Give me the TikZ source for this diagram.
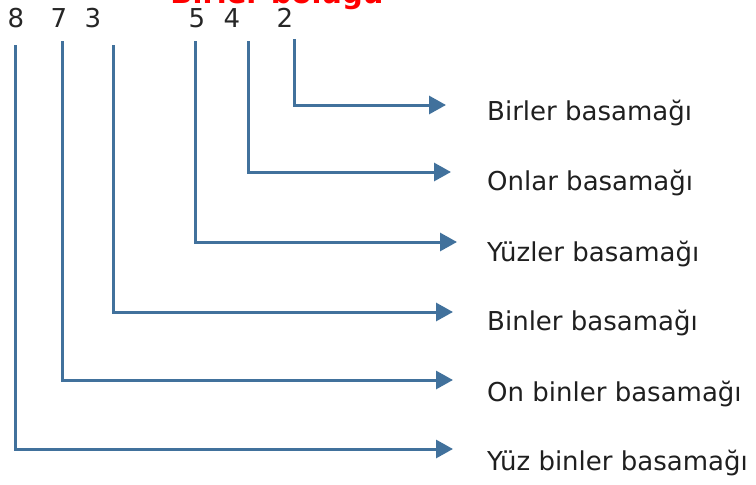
\documentclass[tikz,border=0pt]{standalone}
\usepackage{fontspec}
\setmainfont{DejaVu Sans}
\usetikzlibrary{arrows.meta}
\definecolor{linkblue}{RGB}{65,113,156}
\definecolor{topred}{RGB}{255,0,0}
\tikzset{
  conn/.style={draw=linkblue, line width=3pt, -{Triangle[length=17pt,width=18pt]}},
  digit/.style={inner sep=0pt, anchor=base, font=\fontsize{26}{30}\selectfont, text=black!85},
  placelabel/.style={inner sep=0pt, anchor=base west, font=\fontsize{26}{30}\selectfont, text=black!88},
  grouplabel/.style={inner sep=0pt, anchor=base, font=\bfseries\fontsize{29}{34}\selectfont, text=topred}
}
\begin{document}
\begin{tikzpicture}[x=1pt,y=-1pt]
\useasboundingbox (0,0) rectangle (756,485);
\clip (0,0) rectangle (756,485);
% cropped red heading
\node[grouplabel] (grp) at (277,3) {Birler bölüğü};
% digits
\node[digit] (d8) at (16,27) {8};
\node[digit] (d7) at (59,27) {7};
\node[digit] (d3) at (93,27) {3};
\node[digit] (d5) at (197,27) {5};
\node[digit] (d4) at (232,27) {4};
\node[digit] (d2) at (285,27) {2};
% labels
\node[placelabel] (l1) at (487,120) {Birler basamağı};
\node[placelabel] (l2) at (487,190) {Onlar basamağı};
\node[placelabel] (l3) at (487,261) {Yüzler basamağı};
\node[placelabel] (l4) at (487,330) {Binler basamağı};
\node[placelabel] (l5) at (487,401) {On binler basamağı};
\node[placelabel] (l6) at (487,470) {Yüz binler basamağı};
% connector start and tip points
\coordinate (s2) at (294,39);  \coordinate (t2) at (446,105);
\coordinate (s4) at (248,41);  \coordinate (t4) at (451,172);
\coordinate (s5) at (195,41);  \coordinate (t5) at (457,242);
\coordinate (s3) at (113,45);  \coordinate (t3) at (453,312);
\coordinate (s7) at (62,41);   \coordinate (t7) at (453,380);
\coordinate (s8) at (15,45);   \coordinate (t8) at (453,449);
\draw[conn] (s2) |- (t2);
\draw[conn] (s4) |- (t4);
\draw[conn] (s5) |- (t5);
\draw[conn] (s3) |- (t3);
\draw[conn] (s7) |- (t7);
\draw[conn] (s8) |- (t8);
\end{tikzpicture}
\end{document}
